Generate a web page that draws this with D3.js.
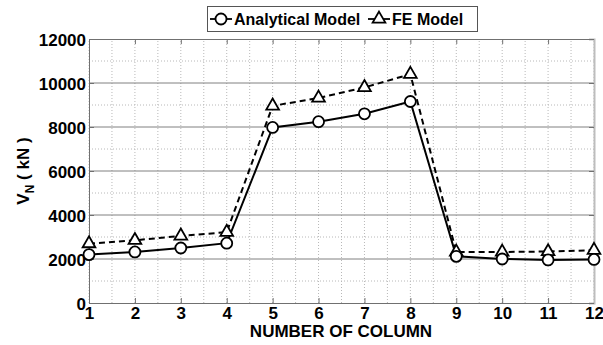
<!DOCTYPE html>
<html>
<head>
<meta charset="utf-8">
<script src="https://cdn.jsdelivr.net/npm/d3@7"></script>
<style>
  body { margin: 0; background: #fff; }
  svg { font-family: Arial, "Liberation Sans", sans-serif; font-weight: bold; }
</style>
</head>
<body>
<div id="chart"></div>
<script>
const columns = [1, 2, 3, 4, 5, 6, 7, 8, 9, 10, 11, 12];
const analytical = [2200, 2320, 2500, 2720, 7980, 8240, 8600, 9160, 2120, 2000, 1960, 1980];
const feModel = [2700, 2850, 3050, 3220, 8960, 9320, 9800, 10400, 2320, 2320, 2340, 2400];
const yTicks = [0, 2000, 4000, 6000, 8000, 10000, 12000];

const width = 603, height = 345;
const m = { left: 89, right: 9, top: 39, bottom: 42 };

const svg = d3.select('#chart').append('svg')
        .attr('width', width)
        .attr('height', height);

const x = d3.scaleLinear().domain([1, 12]).range([m.left, width - m.right]);
const y = d3.scaleLinear().domain([0, 12000]).range([height - m.bottom, m.top]);

const g = svg.append('g');

// minor grid (dotted)
const minorX = d3.range(1, 12.01, 0.5);
const minorY = d3.range(1000, 12000, 2000);
g.selectAll('.vgrid').data(minorX).join('line')
        .attr('x1', d => x(d)).attr('x2', d => x(d))
        .attr('y1', y(0)).attr('y2', y(12000))
        .attr('stroke', '#b8b8b8').attr('stroke-width', 1)
        .attr('stroke-dasharray', '1,2');
g.selectAll('.hgrid').data(minorY).join('line')
        .attr('x1', x(1)).attr('x2', x(12))
        .attr('y1', d => y(d)).attr('y2', d => y(d))
        .attr('stroke', '#b8b8b8').attr('stroke-width', 1)
        .attr('stroke-dasharray', '1,2');
// major horizontal grid (solid)
g.selectAll('.hmajor').data(yTicks.slice(1, -1)).join('line')
        .attr('x1', x(1)).attr('x2', x(12))
        .attr('y1', d => y(d)).attr('y2', d => y(d))
        .attr('stroke', '#808080').attr('stroke-width', 1);

// axes
const xAxis = d3.axisBottom(x).tickValues(columns).tickSize(-5).tickPadding(4).tickFormat(d3.format('d'));
const yAxis = d3.axisLeft(y).tickValues(yTicks).tickSize(-5).tickPadding(3).tickFormat(d3.format('d'));
const xTop = d3.axisTop(x).tickValues(columns).tickSize(-5).tickFormat('');
const yRight = d3.axisRight(y).tickValues(yTicks).tickSize(-5).tickFormat('');

const styleAxis = sel => {
        sel.selectAll('path,line').attr('stroke', '#707070');
        sel.selectAll('text').attr('fill', '#000').style('font-size', '17px').style('font-weight', 'bold');
};
svg.append('g').attr('transform', `translate(0,${y(0)})`).call(xAxis).call(styleAxis);
svg.append('g').attr('transform', `translate(${x(1)},0)`).call(yAxis).call(styleAxis)
        .selectAll('text').attr('dy', '0.36em');
svg.append('g').attr('transform', `translate(0,${y(12000)})`).call(xTop).call(styleAxis);
svg.append('g').attr('transform', `translate(${x(12)},0)`).call(yRight).call(styleAxis)
        .select('.domain').attr('stroke', '#bdbdbd').attr('stroke-width', 2);
svg.selectAll('.domain').attr('fill', 'none');

// series
const line = d3.line().x((d, i) => x(columns[i])).y(d => y(d));
svg.append('path').datum(analytical)
        .attr('d', line).attr('fill', 'none')
        .attr('stroke', '#000').attr('stroke-width', 2);
svg.append('path').datum(feModel)
        .attr('d', line).attr('fill', 'none')
        .attr('stroke', '#000').attr('stroke-width', 2)
        .attr('stroke-dasharray', '6,4');

const tri = d3.symbol().type(d3.symbolTriangle).size(70);
svg.append('g').selectAll('path').data(feModel).join('path')
        .attr('transform', (d, i) => `translate(${x(columns[i])},${y(d)})`)
        .attr('d', tri)
        .attr('fill', '#fff').attr('stroke', '#000').attr('stroke-width', 1.8);
svg.append('g').selectAll('circle').data(analytical).join('circle')
        .attr('cx', (d, i) => x(columns[i])).attr('cy', d => y(d))
        .attr('r', 5.5)
        .attr('fill', '#fff').attr('stroke', '#000').attr('stroke-width', 1.8);

// axis labels
svg.append('text')
        .attr('x', 341).attr('y', 337)
        .attr('text-anchor', 'middle')
        .style('font-size', '17px')
        .text('NUMBER OF COLUMN');

const yl = svg.append('text')
        .attr('transform', 'translate(29,171) rotate(-90)')
        .attr('text-anchor', 'middle')
        .style('font-size', '17px');
yl.append('tspan').text('V');
yl.append('tspan').attr('dy', 5).style('font-size', '12px').text('N');
yl.append('tspan').attr('dy', -5).text(' ( kN )');

// legend
const lg = svg.append('g');
lg.append('rect')
        .attr('x', 207.5).attr('y', 6.5).attr('width', 270).attr('height', 25)
        .attr('fill', '#fff').attr('stroke', '#555').attr('stroke-width', 1);
const legendItems = [
        { name: 'Analytical Model', x0: 210, marker: 'circle' },
        { name: 'FE Model', x0: 368, marker: 'triangle' }
];
legendItems.forEach(it => {
        lg.append('line').attr('x1', it.x0).attr('x2', it.x0 + 22)
                .attr('y1', 19).attr('y2', 19)
                .attr('stroke', '#000').attr('stroke-width', 1.8);
        if (it.marker === 'circle') {
                lg.append('circle').attr('cx', it.x0 + 11).attr('cy', 19).attr('r', 5.5)
                        .attr('fill', '#fff').attr('stroke', '#000').attr('stroke-width', 1.8);
        } else {
                lg.append('path').attr('transform', `translate(${it.x0 + 11},19)`).attr('d', tri)
                        .attr('fill', '#fff').attr('stroke', '#000').attr('stroke-width', 1.8);
        }
        lg.append('text').attr('x', it.x0 + 24).attr('y', 25)
                .style('font-size', '16px').text(it.name);
});
</script>
</body>
</html>
